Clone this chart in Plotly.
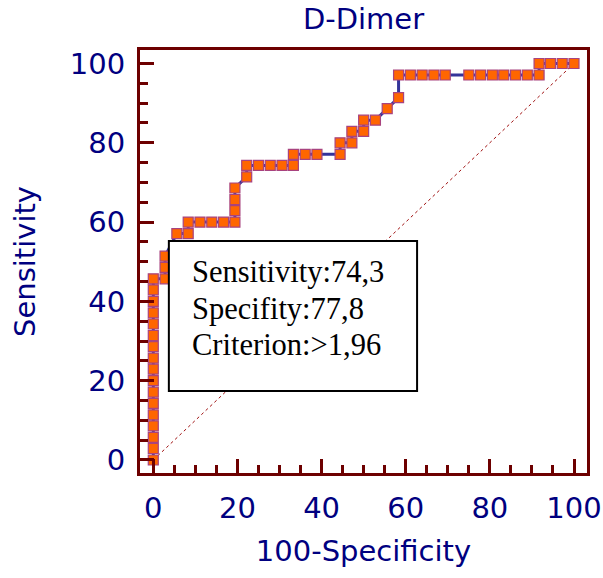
import plotly.graph_objects as go

# ROC operating points: 100-Specificity (%) and Sensitivity (%)
fpr = [0, 0, 0, 0, 0, 0, 0, 0, 0, 0, 0, 0, 0, 0, 0, 0, 0,
       2.8, 2.8, 2.8, 5.6, 8.3, 8.3, 11.1, 13.9, 16.7, 19.4, 19.4, 19.4, 19.4,
       22.2, 22.2, 25.0, 27.8, 30.6, 33.3, 33.3, 36.1, 38.9, 44.4, 44.4,
       47.2, 47.2, 50.0, 50.0, 52.8, 55.6, 58.3, 58.3, 61.1, 63.9, 66.7, 69.4,
       75.0, 77.8, 80.6, 83.3, 86.1, 88.9, 91.7, 91.7, 94.4, 97.2, 100.0]
tpr = [0, 2.9, 5.7, 8.6, 11.4, 14.3, 17.1, 20.0, 22.9, 25.7, 28.6, 31.4, 34.3,
       37.1, 40.0, 42.9, 45.7,
       45.7, 48.6, 51.4, 57.1, 57.1, 60.0, 60.0, 60.0, 60.0, 60.0, 62.9, 65.7, 68.6,
       71.4, 74.3, 74.3, 74.3, 74.3, 74.3, 77.1, 77.1, 77.1, 77.1, 80.0,
       80.0, 82.9, 82.9, 85.7, 85.7, 88.6, 91.4, 97.1, 97.1, 97.1, 97.1, 97.1,
       97.1, 97.1, 97.1, 97.1, 97.1, 97.1, 97.1, 100.0, 100.0, 100.0, 100.0]

# reference diagonal
diag_x = [0, 100]
diag_y = [0, 100]

tick_vals = [0, 20, 40, 60, 80, 100]
summary_lines = ["Sensitivity:74,3", "Specifity:77,8", "Criterion:>1,96"]

navy = "#000080"
frame = "#6d0000"
font_main = "DejaVu Sans"

fig = go.Figure()
fig.add_trace(go.Scatter(
    x=diag_x, y=diag_y, mode="lines",
    line=dict(color="#a01010", width=1, dash="dot"),
    hoverinfo="skip", showlegend=False))
fig.add_trace(go.Scatter(
    x=fpr, y=tpr, mode="lines+markers",
    line=dict(color="#34349a", width=3),
    marker=dict(symbol="square", size=10, color="#ff6600",
                line=dict(color="#a8437f", width=1.2)),
    showlegend=False))

axis_common = dict(
    showline=True, linewidth=3, linecolor=frame, mirror=True,
    ticks="inside", ticklen=14, tickwidth=3, tickcolor=frame,
    tickvals=tick_vals, showgrid=False, zeroline=False, automargin=False,
    tickfont=dict(family=font_main, size=29, color=navy),
    minor=dict(dtick=5, ticks="inside", ticklen=8, tickwidth=3,
               tickcolor=frame, showgrid=False),
)

fig.update_xaxes(**axis_common, range=[-3.16, 103.09], ticklabelstandoff=7,
                 title=dict(text="100-Specificity", standoff=17,
                            font=dict(family=font_main, size=29, color=navy)))
fig.update_yaxes(**axis_common, range=[-3.28, 103.4], ticklabelstandoff=6,
                 title=dict(text="Sensitivity", standoff=26,
                            font=dict(family=font_main, size=29, color=navy)))

# summary box
fig.add_shape(type="rect", xref="x", yref="y", x0=3.7, x1=62.7, y0=17.4, y1=55.2,
              line=dict(color="black", width=2), fillcolor="white", layer="above")
for txt, yy in zip(summary_lines, [47.4, 38.2, 28.9]):
    fig.add_annotation(x=8.7, y=yy, xref="x", yref="y", text=txt,
                       showarrow=False, xanchor="left", yanchor="middle",
                       font=dict(family="Liberation Serif", size=30.5, color="black"))

fig.update_layout(
    width=603, height=578,
    margin=dict(l=140, r=16, t=50, b=105),
    paper_bgcolor="white", plot_bgcolor="white",
    title=dict(text="D-Dimer", x=0.5, xref="paper", y=1 - 18.5 / 578,
               yref="container", xanchor="center", yanchor="middle",
               font=dict(family=font_main, size=29, color=navy)),
)

fig.write_html("out.html")
